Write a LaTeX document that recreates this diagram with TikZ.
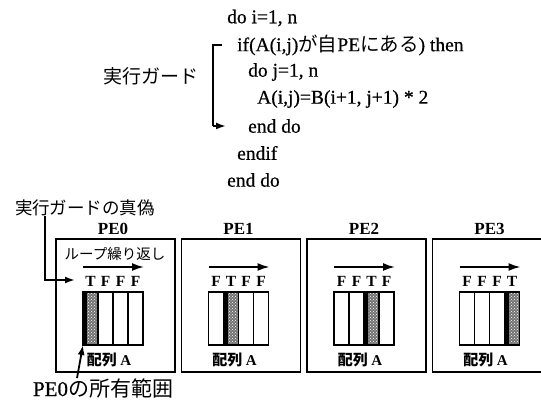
\documentclass[tikz,border=0pt]{standalone}
\usepackage{fontspec}
\setmainfont{Liberation Serif}
\newfontfamily\codefont{Liberation Serif}[FakeBold=0.6]
\newfontfamily\cjk{Noto Sans CJK JP}
\usetikzlibrary{arrows.meta,patterns,calc}
\begin{document}
\begin{tikzpicture}[x=1pt,y=-1pt,
  code/.style={anchor=west,inner sep=0pt,font=\fontsize{19.5}{20}\selectfont\codefont},
  pebox/.style={draw,line width=1.7pt,anchor=north west,minimum width=119pt,minimum height=133pt,inner sep=0pt},
  pelabel/.style={inner sep=0pt,font=\fontsize{17}{17}\selectfont\bfseries},
  tflabel/.style={inner sep=0pt,font=\fontsize{15.5}{15.5}\selectfont\bfseries},
  arrlabel/.style={inner sep=0pt,font=\fontsize{15}{15}\selectfont\bfseries\cjk},
  arr/.style={line width=1.8pt,-{Latex[length=10pt,width=7pt]}},
  looparrow/.style={line width=1.8pt,-{Latex[length=12pt,width=8pt]}},
  plain/.style={line width=1.8pt}]
\useasboundingbox (0,0) rectangle (541,403);
% code
\node[code] (l1) at (227,18) {do i=1, n};
\node[code] (l2) at (237,45) {if(A(i,j){\cjk が自}PE{\cjk にある}) then};
\node[code] (l3) at (248,72) {do j=1, n};
\node[code] (l4) at (257,99) {A(i,j)=B(i+1, j+1) * 2};
\node[code] (l5) at (248,126) {end do};
\node[code] (l6) at (237,153) {endif};
\node[code] (l7) at (227,180) {end do};
\node[inner sep=0pt,font=\fontsize{19}{19}\selectfont\cjk] (guardlbl) at (151,76) {実行ガード};
\coordinate (bx) at (213,0);
\draw[plain] ($(l2.west)+(-15,0)$) -- (l2.west -| bx) -- (l5.west -| bx);
\draw[arr] (l5.west -| bx) -- ($(l5.west)+(-22,0)$);
% PE boxes
\foreach \i in {0,1,2,3} {
  \pgfmathsetmacro\L{55+125.5*\i}
  \node[pebox] (pe\i) at (\L,238) {};
  \node[pelabel] (pel\i) at (\L+58,229) {PE\i};
  \coordinate (arrnw\i) at (\L+28,292);
  \coordinate (arrsw\i) at (\L+28,345);
  \fill[black!55] (\L+28+15*\i,292) rectangle ++(15,53);
  \fill[pattern=crosshatch dots,pattern color=white] (\L+28+15*\i,292) rectangle ++(15,53);
  \fill[black] (\L+28+15*\i,292) rectangle ++(4,53);
  \draw[line width=1.8pt] (arrnw\i) rectangle (\L+88,345);
  \foreach \j in {1,2,3} {\draw[line width=1.4pt] (\L+28+15*\j,292) -- (\L+28+15*\j,345);}
  \foreach \j in {0,1,2,3} {
    \node[tflabel] at (\L+35.5+15*\j,281) {\ifnum\j=\i T\else F\fi};
  }
  \draw[looparrow] (\L+28,267) -- (\L+89,267);
  \node[arrlabel] (al\i) at (\L+54,360) {配列 {\rmfamily\bfseries A}};
}
\node[inner sep=0pt,font=\fontsize{14.5}{14.5}\selectfont\cjk] (loop) at (115,254) {ループ繰り返し};
% guard truth
\node[inner sep=0pt,font=\fontsize{17.5}{17.5}\selectfont\cjk] (guard) at (85,208) {実行ガードの真偽};
\coordinate (g1) at (45,280);
\coordinate (gtip) at (75,280);
\draw[arr] (guard.south -| g1) -- (g1) -- (gtip);
% owner
\node[inner sep=0pt,font=\fontsize{21}{21}\selectfont\codefont] (owner) at (103,388) {PE0{\cjk の所有範囲}};
\coordinate (o1) at (77,0);
\draw[arr] (owner.north -| o1) -- (arrsw0);
\end{tikzpicture}
\end{document}
